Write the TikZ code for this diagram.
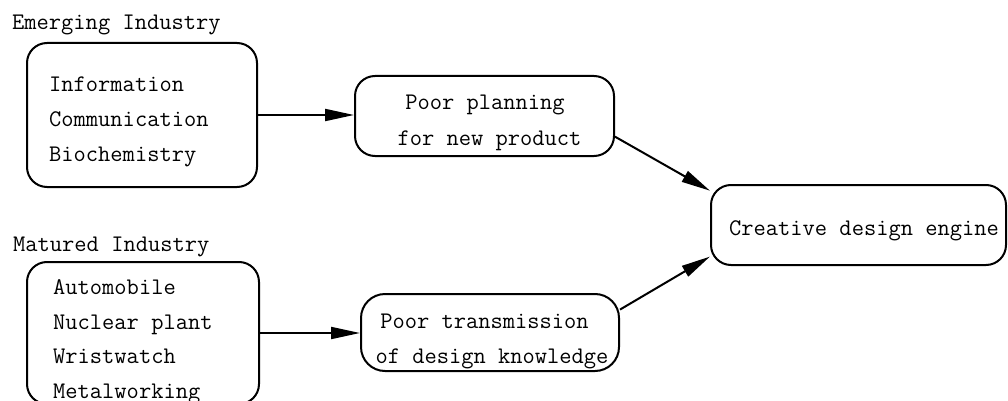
\documentclass[tikz,border=0pt]{standalone}
\usepackage{fontspec}
\usetikzlibrary{arrows.meta}

\begin{document}
\begin{tikzpicture}[x=1pt,y=-1pt,
  box/.style={draw=black, line width=2pt, rounded corners=20pt, inner sep=0pt, fill=white},
  txt/.style={inner sep=0pt, font=\ttfamily\fontsize{23.8}{34.7}\selectfont},
  lineL/.style={txt, anchor=base west},
  lineC/.style={txt, anchor=base},
  flow/.style={line width=2pt, -{Triangle[length=29pt,width=12pt]}}
]
\useasboundingbox (0,0) rectangle (1008,401);

% group labels
\node[lineL] (lblA) at (12,30) {Emerging Industry};
\node[lineL] (lblB) at (13,251.7) {Matured Industry};

% boxes
\node[box, minimum width=230pt, minimum height=144pt] (emerg) at (142,115) {};
\node[box, minimum width=259pt, minimum height=80pt] (plan) at (484.5,116) {};
\node[box, minimum width=295pt, minimum height=80pt] (engine) at (858.5,225) {};
\node[box, minimum width=232pt, minimum height=142pt] (mature) at (143,333) {};
\node[box, minimum width=258pt, minimum height=77pt, rounded corners=24pt] (trans) at (490,332.5) {};

% emerging industries
\node[lineL] (e1) at (49,92) {Information};
\node[lineL] (e2) at (49,126.5) {Communication};
\node[lineL] (e3) at (49,161) {Biochemistry};

% matured industries
\node[lineL] (m1) at (53,294) {Automobile};
\node[lineL] (m2) at (53,329) {Nuclear plant};
\node[lineL] (m3) at (53,363) {Wristwatch};
\node[lineL] (m4) at (53,398) {Metalworking};

% problem boxes and goal
\node[lineC] (p1) at (485,110) {Poor planning};
\node[lineC] (p2) at (489.5,145) {for new product};
\node[lineC] (q1) at (484.5,328) {Poor transmission};
\node[lineC] (q2) at (492,363) {of design knowledge};
\node[lineC] (g1) at (864,235) {Creative design engine};

% connectors
\draw[flow] (emerg.east) -- (emerg.east -| plan.west);
\draw[flow] (mature.east) -- (mature.east -| trans.west);
\draw[flow] (plan.-9.7) -- (engine.167.4);
\draw[flow] (trans.10) -- (engine.192.7);
\end{tikzpicture}
\end{document}
